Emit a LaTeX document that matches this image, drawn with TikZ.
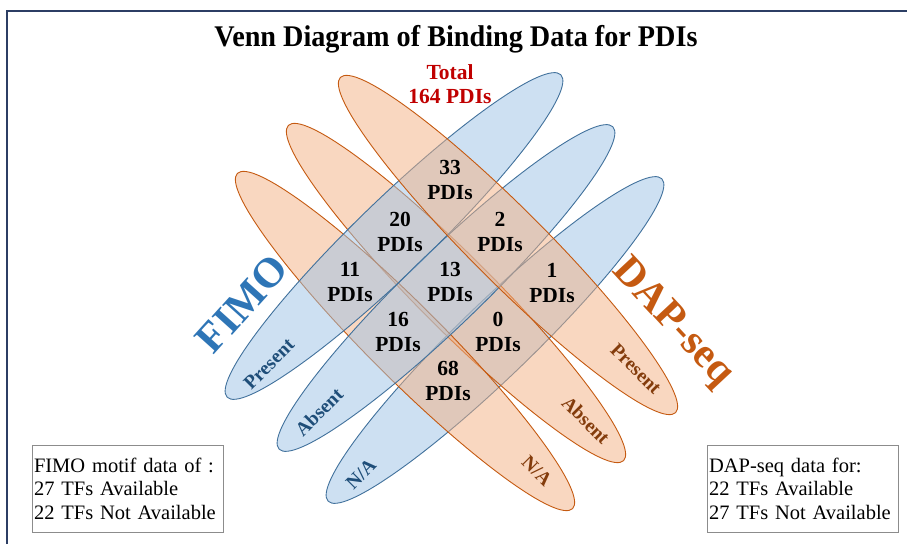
\documentclass[tikz,border=0pt]{standalone}
\usepackage{fontspec}
\setmainfont{Liberation Serif}
\definecolor{bline}{HTML}{41719C}
\definecolor{bfill}{HTML}{9DC3E6}
\definecolor{oline}{HTML}{C55A11}
\definecolor{ofill}{HTML}{F4B183}
\definecolor{blabel}{HTML}{1F4E79}
\definecolor{olabel}{HTML}{843C0C}
\definecolor{fimoc}{HTML}{2E75B6}
\definecolor{dapc}{HTML}{C55A11}
\definecolor{totalc}{HTML}{C00000}
\definecolor{framec}{HTML}{2C3E64}
\definecolor{boxc}{HTML}{8C8C8C}
\begin{document}
\begin{tikzpicture}[x=1pt,y=1pt,
  blueell/.style={draw=bline, fill=bfill, fill opacity=0.5, draw opacity=1, line width=0.9pt},
  orangeell/.style={draw=oline, fill=ofill, fill opacity=0.5, draw opacity=1, line width=0.9pt},
  cell/.style={align=center, font=\bfseries\fontsize{21.5}{24.5}\selectfont, inner sep=0pt},
  blab/.style={text=blabel, font=\bfseries\fontsize{19.5}{22}\selectfont, rotate=45, inner sep=0pt},
  olab/.style={text=olabel, font=\bfseries\fontsize{19.5}{22}\selectfont, rotate=-45, inner sep=0pt},
  bigname/.style={font=\bfseries\fontsize{42}{44}\selectfont, inner sep=0pt},
  infobox/.style={draw=boxc, line width=0.9pt, align=left, text width=187pt, inner xsep=2pt,
     minimum height=87pt, font=\fontsize{20.5}{23.5}\selectfont},
  framel/.style={draw=framec, line width=2.5pt}
]
\useasboundingbox (0,0) rectangle (907,544);
\fill[white] (0,0) rectangle (907,544);
% frame
\draw[framel] (7,0) -- (7,533) -- (907,533);
% title
\node[font=\bfseries\fontsize{30}{34}\selectfont, inner sep=0pt] (title) at (456,505) {\scalebox{0.94}[1]{Venn Diagram of Binding Data for PDIs}};
% ellipses: z-order bN, oA, oN, bP, bA, oP
\begin{scope}[shift={(495,204)},rotate=44]
  \path[blueell] (0,0) ellipse [x radius=232pt, y radius=37pt];
\end{scope}
\begin{scope}[shift={(456,251)},rotate=-45]
  \path[orangeell] (0,0) ellipse [x radius=237pt, y radius=37pt];
\end{scope}
\begin{scope}[shift={(405,203)},rotate=-45]
  \path[orangeell] (0,0) ellipse [x radius=237pt, y radius=37pt];
\end{scope}
\begin{scope}[shift={(394,308)},rotate=44]
  \path[blueell] (0,0) ellipse [x radius=232pt, y radius=37pt];
\end{scope}
\begin{scope}[shift={(446,256)},rotate=44]
  \path[blueell] (0,0) ellipse [x radius=232pt, y radius=37pt];
\end{scope}
\begin{scope}[shift={(508,299)},rotate=-45]
  \path[orangeell] (0,0) ellipse [x radius=237pt, y radius=37pt];
\end{scope}
% total
\node[align=center, text=totalc, font=\bfseries\fontsize{21.5}{24}\selectfont, inner sep=0pt] (total) at (450,460) {Total\\164 PDIs};
% cells
\node[cell] (c33) at (450,364) {33\\PDIs};
\node[cell] (c20) at (400,312) {20\\PDIs};
\node[cell] (c2)  at (500,312) {2\\PDIs};
\node[cell] (c11) at (350,262) {11\\PDIs};
\node[cell] (c13) at (450,262) {13\\PDIs};
\node[cell] (c1)  at (552,261) {1\\PDIs};
\node[cell] (c16) at (398,212) {16\\PDIs};
\node[cell] (c0)  at (498,212) {0\\PDIs};
\node[cell] (c68) at (448,163) {68\\PDIs};
% big names
\node[bigname, text=fimoc, rotate=48] (fimo) at (242,240) {FIMO};
\node[bigname, text=dapc, rotate=-47] (dap) at (672,221) {DAP-seq};
% ellipse labels
\node[blab] (bp) at (269,180) {Present};
\node[blab] (ba) at (319,132) {Absent};
\node[blab] (bn) at (361,70) {N/A};
\node[olab] (op) at (636,175) {Present};
\node[olab] (oa) at (586,124) {Absent};
\node[olab] (on) at (537,73) {N/A};
% info boxes
\node[infobox] (lbox) at (127.5,55.5) {FIMO motif data of :\\27 TFs Available\\22 TFs Not Available};
\node[infobox] (rbox) at (802.5,55.5) {DAP-seq data for:\\22 TFs Available\\27 TFs Not Available};
\end{tikzpicture}
\end{document}
